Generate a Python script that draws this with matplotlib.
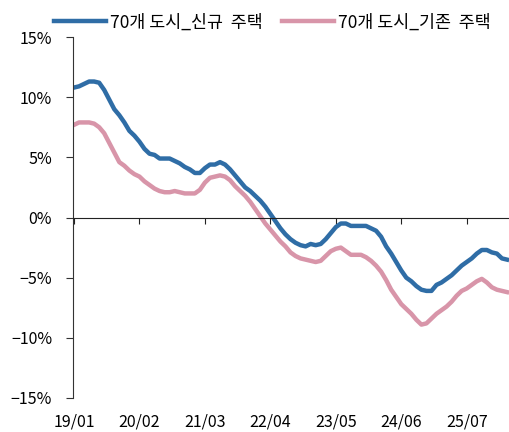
import numpy as np
import matplotlib.pyplot as plt
from matplotlib.ticker import FuncFormatter

plt.rcParams['font.family'] = ['Noto Sans CJK KR', 'DejaVu Sans']

# monthly YoY, 2019/01 onward
new_homes = [10.8, 10.9, 11.1, 11.3, 11.3, 11.2, 10.6, 9.8, 9.0, 8.5,
             7.9, 7.2, 6.8, 6.3, 5.7, 5.3, 5.2, 4.9, 4.9, 4.9,
             4.7, 4.5, 4.2, 4.0, 3.7, 3.7, 4.1, 4.4, 4.4, 4.6,
             4.4, 4.0, 3.5, 3.0, 2.5, 2.2, 1.8, 1.4, 0.9, 0.3,
             -0.3, -0.9, -1.4, -1.8, -2.1, -2.3, -2.4, -2.2, -2.3, -2.2,
             -1.8, -1.3, -0.8, -0.5, -0.5, -0.7, -0.7, -0.7, -0.7, -0.9,
             -1.1, -1.6, -2.4, -3.0, -3.7, -4.4, -5.0, -5.3, -5.7, -6.0,
             -6.1, -6.1, -5.6, -5.4, -5.1, -4.8, -4.4, -4.0, -3.7, -3.4,
             -3.0, -2.7, -2.7, -2.9, -3.0, -3.4, -3.5]
existing_homes = [7.7, 7.9, 7.9, 7.9, 7.8, 7.5, 7.0, 6.2, 5.4, 4.6,
                  4.3, 3.9, 3.6, 3.4, 3.0, 2.7, 2.4, 2.2, 2.1, 2.1,
                  2.2, 2.1, 2.0, 2.0, 2.0, 2.3, 2.9, 3.3, 3.4, 3.5,
                  3.4, 3.1, 2.6, 2.2, 1.8, 1.3, 0.7, 0.1, -0.5, -1.0,
                  -1.5, -2.0, -2.4, -2.9, -3.2, -3.4, -3.5, -3.6, -3.7, -3.6,
                  -3.2, -2.8, -2.6, -2.5, -2.8, -3.1, -3.1, -3.1, -3.3, -3.6,
                  -4.0, -4.5, -5.2, -6.0, -6.6, -7.2, -7.6, -8.0, -8.5, -8.9,
                  -8.8, -8.4, -8.0, -7.7, -7.4, -7.0, -6.5, -6.1, -5.9, -5.6,
                  -5.3, -5.1, -5.4, -5.8, -6.0, -6.1, -6.2]
tick_labels = ['19/01', '20/02', '21/03', '22/04', '23/05', '24/06', '25/07']
series_names = ['70개 도시_신규  주택', '70개 도시_기존  주택']

x = np.arange(len(new_homes))
tick_pos = np.arange(0, len(new_homes), 13)[:len(tick_labels)]

fig = plt.figure(figsize=(5.1, 4.32), dpi=100)
ax = fig.add_axes([73 / 510, 1 - 398 / 432, 437 / 510, 361 / 432])

ax.plot(x, new_homes, color='#2f6da6', lw=3.2, label=series_names[0])
ax.plot(x, existing_homes, color='#d895a9', lw=3.2, label=series_names[1])

ax.set_ylim(-15, 15)
ax.set_yticks(range(-15, 16, 5))
ax.yaxis.set_major_formatter(FuncFormatter(lambda v, p: f'{v:.0f}%'.replace('-', '\u2212')))
ax.set_xlim(-0.2, 86.6)

ax.spines['bottom'].set_position(('data', 0))
ax.spines['right'].set_color('none')
ax.spines['top'].set_color('none')
ax.spines['left'].set_color('#333333')
ax.spines['bottom'].set_color('#222222')
ax.set_xticks(tick_pos)
ax.tick_params(axis='x', direction='out', length=4, labelbottom=False, color='#222222')
ax.tick_params(axis='y', direction='out', length=5, labelsize=11.5, pad=10, color='#333333')

sec = ax.secondary_xaxis('bottom')
sec.set_xticks(tick_pos)
sec.set_xticklabels(tick_labels)
sec.tick_params(length=0, labelsize=11.5, pad=11)
sec.spines['bottom'].set_visible(False)

fig.legend(loc='upper center', bbox_to_anchor=(0.534, 1.005), ncol=2, frameon=False,
           fontsize=12.5, handlelength=3.0, columnspacing=1.1, handletextpad=0.25)

fig.savefig('out.png', dpi=100)
